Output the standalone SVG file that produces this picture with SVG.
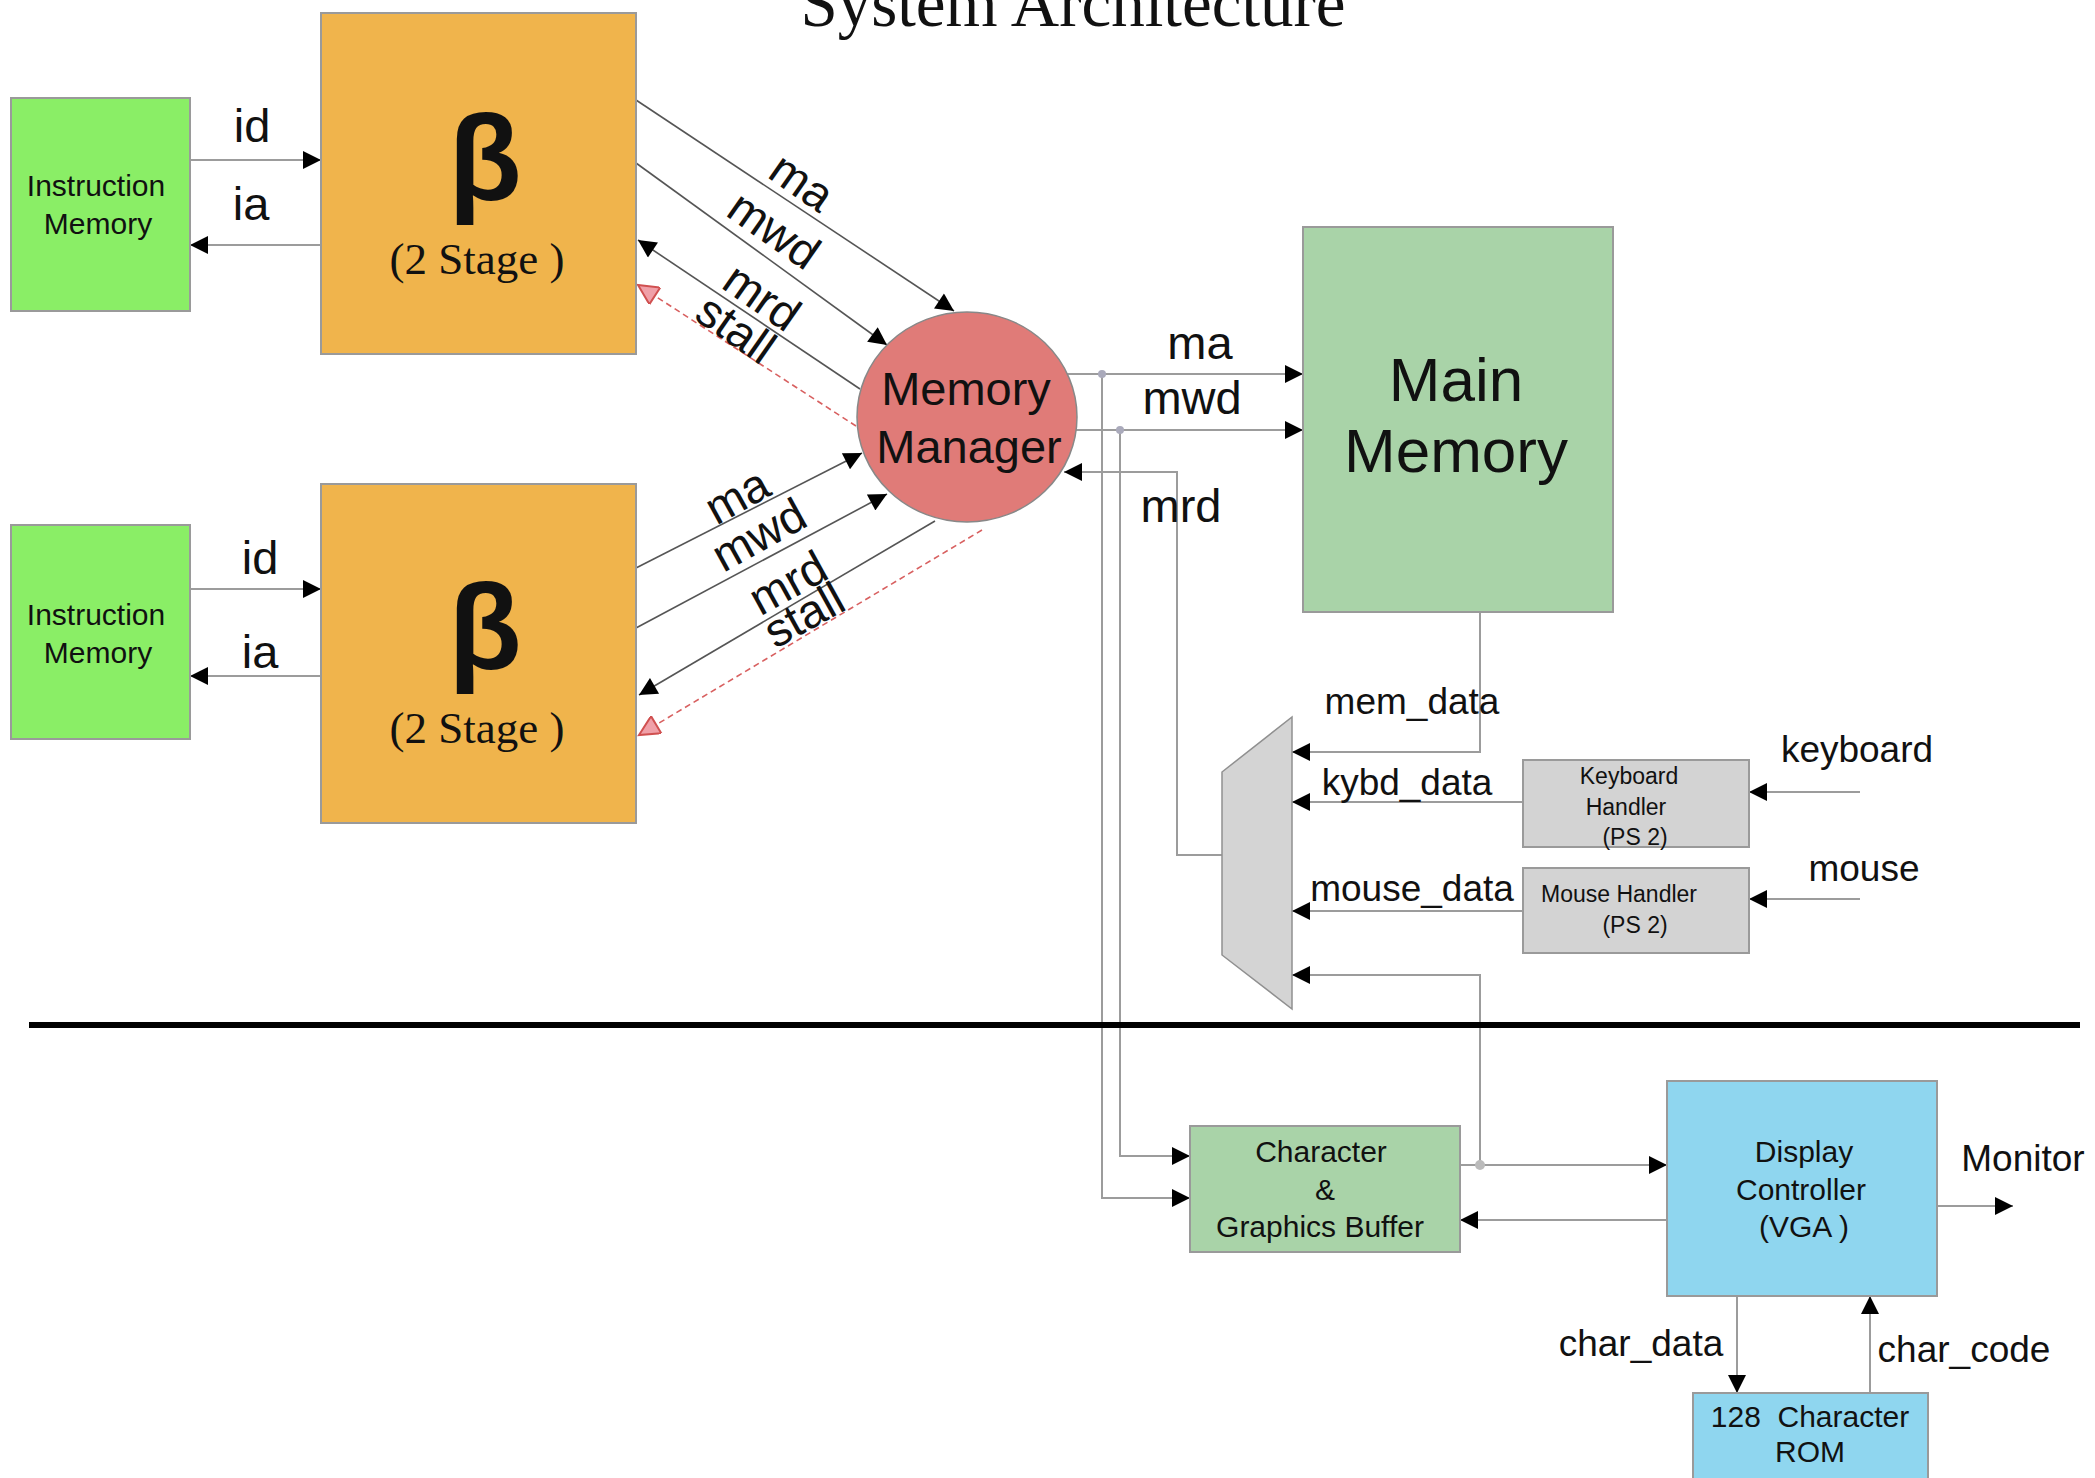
<svg xmlns="http://www.w3.org/2000/svg" width="2095" height="1478" viewBox="0 0 2095 1478">
<style>
.sans{font-family:"Liberation Sans",Arial,sans-serif;fill:#111}
.serif{font-family:"Liberation Serif","Times New Roman",serif;fill:#111}
.lbl{font-size:47px}
.lbl2{font-size:37px}
.box{stroke:#9a9a9a;stroke-width:2}
.wire{fill:none;stroke:#9c9c9c;stroke-width:2}
.dark{fill:none;stroke:#555;stroke-width:1.6}
.stall{fill:none;stroke:#d86060;stroke-width:1.6;stroke-dasharray:6,4}
.mid{text-anchor:middle}
</style>
<defs>
<marker id="arr" viewBox="0 0 10 10" refX="10" refY="5" markerWidth="28" markerHeight="18" markerUnits="userSpaceOnUse" orient="auto"><path d="M0,0 L10,5 L0,10 z" fill="#000"/></marker>
<marker id="arrR" viewBox="0 0 10 10" refX="10" refY="5" markerWidth="26" markerHeight="20" markerUnits="userSpaceOnUse" orient="auto"><path d="M0,0 L10,5 L0,10 z" fill="#f0a0a8" stroke="#d05050" stroke-width="1"/></marker>
</defs>
<rect width="2095" height="1478" fill="#fff"/>

<text class="serif mid" x="1073" y="26" font-size="67">System Architecture</text>

<g id="connectors">
  <path class="wire" d="M190,160 H321" marker-end="url(#arr)"/>
  <path class="wire" d="M321,245 H190" marker-end="url(#arr)"/>
  <path class="wire" d="M190,589 H321" marker-end="url(#arr)"/>
  <path class="wire" d="M321,676 H190" marker-end="url(#arr)"/>
  <path class="dark" d="M636,100 L954,311" marker-end="url(#arr)"/>
  <path class="dark" d="M636,163 L887,345" marker-end="url(#arr)"/>
  <path class="dark" d="M860,389 L638,240" marker-end="url(#arr)"/>
  <path class="stall" d="M856,426 L638,285" marker-end="url(#arrR)"/>
  <path class="dark" d="M636,568 L862,453" marker-end="url(#arr)"/>
  <path class="dark" d="M636,628 L887,494" marker-end="url(#arr)"/>
  <path class="dark" d="M935,521 L639,695" marker-end="url(#arr)"/>
  <path class="stall" d="M982,530 L639,735" marker-end="url(#arrR)"/>
  <path class="wire" d="M1067,374 H1303" marker-end="url(#arr)"/>
  <path class="wire" d="M1076,430 H1303" marker-end="url(#arr)"/>
  <path class="wire" d="M1222,855 H1177 V472 H1064" marker-end="url(#arr)"/>
  <path class="wire" d="M1102,374 V1198 H1190" marker-end="url(#arr)"/>
  <path class="wire" d="M1120,430 V1156 H1190" marker-end="url(#arr)"/>
  <circle cx="1102" cy="374" r="4" fill="#aab"/>
  <circle cx="1120" cy="430" r="4" fill="#aab"/>
  <path class="wire" d="M1480,612 V752 H1292" marker-end="url(#arr)"/>
  <path class="wire" d="M1523,802 H1292" marker-end="url(#arr)"/>
  <path class="wire" d="M1523,911 H1292" marker-end="url(#arr)"/>
  <path class="wire" d="M1480,1165 V975 H1292" marker-end="url(#arr)"/>
  <path class="wire" d="M1860,792 H1749" marker-end="url(#arr)"/>
  <path class="wire" d="M1860,899 H1749" marker-end="url(#arr)"/>
  <path class="wire" d="M1460,1165 H1667" marker-end="url(#arr)"/>
  <circle cx="1480" cy="1165" r="5" fill="#bbb"/>
  <path class="wire" d="M1667,1220 H1460" marker-end="url(#arr)"/>
  <path class="wire" d="M1937,1206 H2013" marker-end="url(#arr)"/>
  <path class="wire" d="M1737,1296 V1393" marker-end="url(#arr)"/>
  <path class="wire" d="M1870,1393 V1296" marker-end="url(#arr)"/>
</g>

<line x1="29" y1="1025" x2="2080" y2="1025" stroke="#000" stroke-width="6"/>

<g id="im1">
  <rect class="box" x="11" y="98" width="179" height="213" fill="#8aee66"/>
  <text class="sans mid" x="96" y="196" font-size="30">Instruction</text>
  <text class="sans mid" x="98" y="234" font-size="30">Memory</text>
</g>
<g id="im2">
  <rect class="box" x="11" y="525" width="179" height="214" fill="#8aee66"/>
  <text class="sans mid" x="96" y="625" font-size="30">Instruction</text>
  <text class="sans mid" x="98" y="663" font-size="30">Memory</text>
</g>
<g id="beta1">
  <rect class="box" x="321" y="13" width="315" height="341" fill="#f0b44c"/>
  <text class="sans mid" x="485" y="200" font-size="120" font-weight="bold">β</text>
  <text class="serif mid" x="477" y="274" font-size="45">(2 Stage )</text>
</g>
<g id="beta2">
  <rect class="box" x="321" y="484" width="315" height="339" fill="#f0b44c"/>
  <text class="sans mid" x="485" y="669" font-size="120" font-weight="bold">β</text>
  <text class="serif mid" x="477" y="743" font-size="45">(2 Stage )</text>
</g>
<g id="memory-manager">
  <ellipse cx="967" cy="417" rx="110" ry="105" fill="#e07b78" stroke="#888" stroke-width="1.5"/>
  <text class="sans mid" x="966" y="405" font-size="47">Memory</text>
  <text class="sans mid" x="969" y="463" font-size="47">Manager</text>
</g>
<g id="main-memory">
  <rect class="box" x="1303" y="227" width="310" height="385" fill="#a9d3a8"/>
  <text class="sans mid" x="1456" y="401" font-size="62">Main</text>
  <text class="sans mid" x="1456" y="472" font-size="62">Memory</text>
</g>
<g id="mux">
  <path d="M1222,772 L1292,717 L1292,1009 L1222,955 Z" fill="#d4d4d4" stroke="#909090" stroke-width="1.5"/>
</g>
<g id="keyboard-handler">
  <rect class="box" x="1523" y="760" width="226" height="87" fill="#d3d3d3"/>
  <text class="sans mid" x="1629" y="784" font-size="23">Keyboard</text>
  <text class="sans mid" x="1626" y="815" font-size="23">Handler</text>
  <text class="sans mid" x="1635" y="845" font-size="23">(PS 2)</text>
</g>
<g id="mouse-handler">
  <rect class="box" x="1523" y="868" width="226" height="85" fill="#d3d3d3"/>
  <text class="sans mid" x="1619" y="902" font-size="23">Mouse Handler</text>
  <text class="sans mid" x="1635" y="933" font-size="23">(PS 2)</text>
</g>
<g id="char-buffer">
  <rect class="box" x="1190" y="1126" width="270" height="126" fill="#a9d3a8"/>
  <text class="sans mid" x="1321" y="1162" font-size="30">Character</text>
  <text class="sans mid" x="1325" y="1200" font-size="30">&amp;</text>
  <text class="sans mid" x="1320" y="1237" font-size="30">Graphics Buffer</text>
</g>
<g id="display-controller">
  <rect class="box" x="1667" y="1081" width="270" height="215" fill="#8fd6ef"/>
  <text class="sans mid" x="1804" y="1162" font-size="30">Display</text>
  <text class="sans mid" x="1801" y="1200" font-size="30">Controller</text>
  <text class="sans mid" x="1804" y="1237" font-size="30">(VGA )</text>
</g>
<g id="char-rom">
  <rect class="box" x="1693" y="1393" width="235" height="90" fill="#8fd6ef"/>
  <text class="sans mid" x="1810" y="1427" font-size="30" style="white-space:pre">128  Character</text>
  <text class="sans mid" x="1810" y="1462" font-size="30">ROM</text>
</g>

<g id="labels">
  <text class="sans lbl mid" x="252" y="142">id</text>
  <text class="sans lbl mid" x="251" y="220">ia</text>
  <text class="sans lbl mid" x="260" y="574">id</text>
  <text class="sans lbl mid" x="260" y="668">ia</text>
  <text class="sans lbl mid" transform="translate(802,182) rotate(35)" dy="16">ma</text>
  <text class="sans lbl mid" transform="translate(774,230) rotate(35)" dy="16">mwd</text>
  <text class="sans lbl mid" transform="translate(762,297) rotate(35)" dy="16">mrd</text>
  <text class="sans lbl mid" transform="translate(736,329) rotate(35)" dy="16">stall</text>
  <text class="sans lbl mid" transform="translate(737,496) rotate(-29)" dy="16">ma</text>
  <text class="sans lbl mid" transform="translate(759,535) rotate(-29)" dy="16">mwd</text>
  <text class="sans lbl mid" transform="translate(788,583) rotate(-29)" dy="16">mrd</text>
  <text class="sans lbl mid" transform="translate(804,615) rotate(-29)" dy="16">stall</text>
  <text class="sans lbl mid" x="1200" y="359">ma</text>
  <text class="sans lbl mid" x="1192" y="414">mwd</text>
  <text class="sans lbl mid" x="1181" y="522">mrd</text>
  <text class="sans lbl2 mid" x="1412" y="714">mem_data</text>
  <text class="sans lbl2 mid" x="1407" y="795">kybd_data</text>
  <text class="sans lbl2 mid" x="1412" y="901">mouse_data</text>
  <text class="sans lbl2 mid" x="1857" y="762">keyboard</text>
  <text class="sans lbl2 mid" x="1864" y="881">mouse</text>
  <text class="sans lbl2 mid" x="2023" y="1171">Monitor</text>
  <text class="sans lbl2 mid" x="1641" y="1356">char_data</text>
  <text class="sans lbl2 mid" x="1964" y="1362">char_code</text>
</g>
</svg>
